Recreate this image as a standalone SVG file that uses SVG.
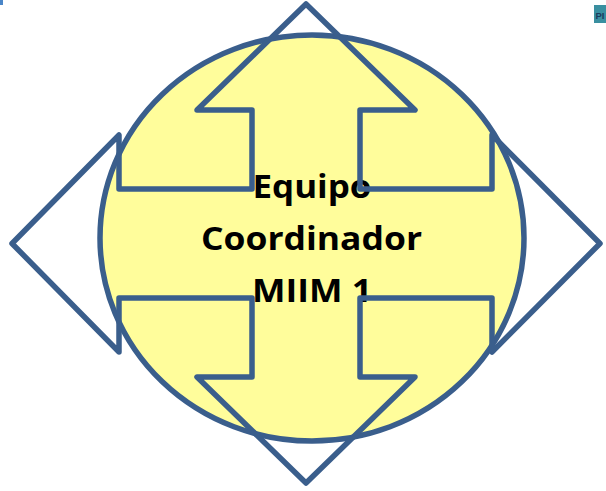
<svg xmlns="http://www.w3.org/2000/svg" width="606" height="491" viewBox="0 0 606 491">
<defs>
<style>
.arrow-outline{fill:none;stroke:#3A5E8C;stroke-width:5.5;stroke-linejoin:round}
.arrow-fill{fill:#FFFFFF;stroke:none}
.circle{fill:#FFFD9B;stroke:#3A5E8C;stroke-width:5.5}
.label{font-family:"Open Sans","Liberation Sans",Arial,sans-serif;font-weight:bold;font-size:33px;fill:#000000;text-anchor:middle}
</style>
<path id="cross" d="M306,4 L415,110 L360,110 L360,189 L492,189 L492,135 L600,243.5 L492,352 L492,298 L360,298 L360,377 L415,377 L306,483 L197,377 L252,377 L252,298 L119,298 L119,352 L12,243.5 L119,135 L119,189 L252,189 L252,110 L197,110 Z"/>
</defs>
<rect width="606" height="491" fill="#FFFFFF"/>
<rect x="0" y="0" width="3" height="5" fill="#4A86C8"/>
<g id="badge">
<rect x="594" y="5" width="14" height="18" fill="#3A8FA0"/>
<text x="595.5" y="19" font-family="'Liberation Sans',Arial,sans-serif" font-weight="bold" font-size="9.5" fill="#1C3A5C">PI</text>
</g>
<g id="cross-arrow-fill">
<use href="#cross" class="arrow-fill"/>
</g>
<g id="center-node">
<ellipse class="circle" cx="312" cy="238" rx="212" ry="203"/>
<text class="label" x="312" y="198" textLength="119" lengthAdjust="spacingAndGlyphs">Equipo</text>
<text class="label" x="311.5" y="250" textLength="221" lengthAdjust="spacingAndGlyphs">Coordinador</text>
<text class="label" x="312" y="302" textLength="120" lengthAdjust="spacingAndGlyphs">MIIM 1</text>
</g>
<g id="connectors">
<use href="#cross" class="arrow-outline"/>
</g>
</svg>
